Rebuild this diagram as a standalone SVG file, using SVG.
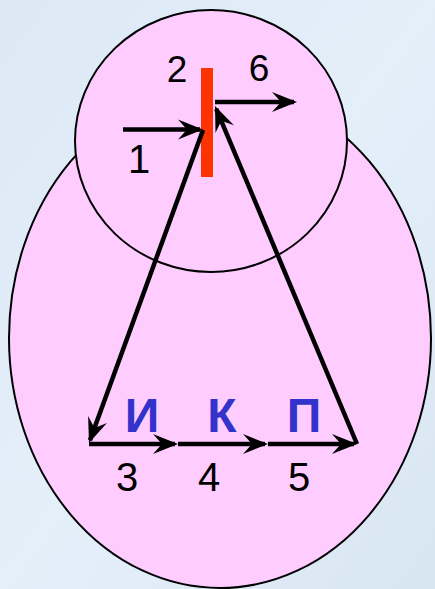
<svg xmlns="http://www.w3.org/2000/svg" width="435" height="589" viewBox="0 0 435 589">
  <defs>
    <linearGradient id="bg" x1="0" y1="0" x2="1" y2="1">
      <stop offset="0" stop-color="#DCE8F4"/>
      <stop offset="0.5" stop-color="#E4EFFA"/>
      <stop offset="1" stop-color="#D8E6F2"/>
    </linearGradient>
    <marker id="ah" markerUnits="userSpaceOnUse" markerWidth="32" markerHeight="24" viewBox="-27 -12 32 24" refX="-3" refY="0" orient="auto">
      <path d="M0,0 L-25,-10 L-16,0 L-25,10 Z" fill="#000"/>
    </marker>
    <style>
      .shape { fill: #FFCCFF; stroke: #000; stroke-width: 2; }
      .conn { fill: none; stroke: #000; stroke-width: 4.5; marker-end: url(#ah); }
      .num { font-family: "Liberation Sans", Arial, sans-serif; fill: #000; text-anchor: middle; }
      .let { font-family: "Liberation Sans", Arial, sans-serif; font-weight: bold; font-size: 48px; fill: #3333CC; text-anchor: middle; }
    </style>
  </defs>
  <rect x="0" y="0" width="435" height="589" fill="url(#bg)"/>
  <g id="big-ellipse">
    <ellipse class="shape" cx="220" cy="338" rx="211" ry="250"/>
  </g>
  <g id="small-circle">
    <ellipse class="shape" cx="211" cy="141" rx="136" ry="131"/>
  </g>
  <g id="membrane">
    <rect x="201" y="68" width="12" height="109" fill="#FF3300"/>
  </g>
  <g id="connectors">
    <line class="conn" x1="123" y1="129.5" x2="200" y2="129.5"/>
    <line class="conn" x1="203" y1="130" x2="90" y2="440.2"/>
    <line class="conn" x1="89" y1="444" x2="175" y2="444"/>
    <line class="conn" x1="178" y1="444" x2="265" y2="444"/>
    <line class="conn" x1="268" y1="444" x2="354" y2="444"/>
    <line class="conn" x1="357" y1="444" x2="216.2" y2="108.8"/>
    <line class="conn" x1="215" y1="102" x2="294" y2="102"/>
  </g>
  <g id="labels">
    <text class="num" x="177" y="82" font-size="37">2</text>
    <text class="num" x="259" y="81" font-size="37">6</text>
    <text class="num" x="139" y="173" font-size="40">1</text>
    <text class="num" x="127" y="491" font-size="40">3</text>
    <text class="num" x="209" y="491" font-size="40">4</text>
    <text class="num" x="299" y="491" font-size="40">5</text>
    <text class="let" x="142" y="432">И</text>
    <text class="let" x="222" y="432">К</text>
    <text class="let" x="304" y="432">П</text>
  </g>
</svg>
